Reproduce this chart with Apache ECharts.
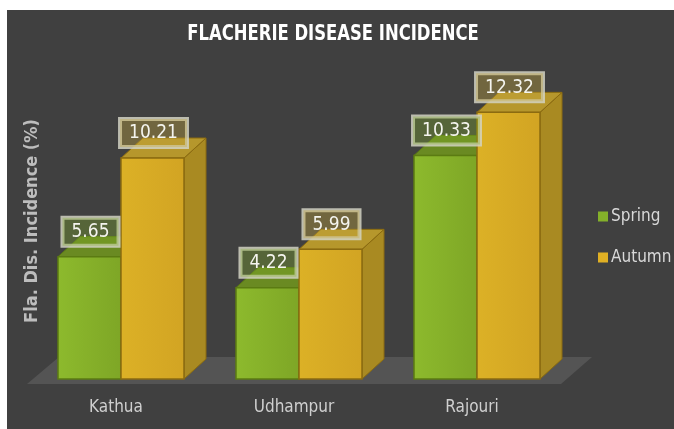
<!DOCTYPE html>
<html>
<head>
<meta charset="utf-8">
<script src="https://cdn.jsdelivr.net/npm/echarts@6/dist/echarts.min.js"></script>
<style>
  html, body { margin: 0; padding: 0; background: #ffffff; }
  #chart { position: absolute; left: 7px; top: 10px; width: 667px; height: 419px; }
</style>
</head>
<body>
<div id="chart"></div>
<script>
// ---- data ----
const CATEGORIES = ['Kathua', 'Udhampur', 'Rajouri'];
const SERIES_NAMES = ['Spring', 'Autumn'];
const SPRING = [5.65, 4.22, 10.33];
const AUTUMN = [10.21, 5.99, 12.32];
const TITLE = 'FLACHERIE DISEASE INCIDENCE';
const Y_NAME = 'Fla. Dis. Incidence (%)';

// ---- styles ----
const FONT = '"DejaVu Sans Condensed", "DejaVu Sans", sans-serif';
const DX = 22, DY = 20;          // 3D depth offsets (px)
const SHIFT = 5;                 // bars shifted right of category centre (px)
const BAR_FRAC = 63 / 178;       // bar width as fraction of band
const STYLES = [
  { front: ['#8dba2d', '#7ea626'], border: '#5b7b12', top: '#6a8a22', side: '#5f7d18', legend: '#84b02a', box: 'rgba(132,176,42,0.33)' },
  { front: ['#dcb126', '#d2a423'], border: '#8b6b10', top: '#b6972c', side: '#a98a22', legend: '#e0b024', box: 'rgba(200,170,60,0.36)' }
];

function makeRender(si) {
  const st = STYLES[si];
  return function (params, api) {
    const cat = api.value(0), v = api.value(1);
    const base = api.coord([cat, 0]);
    const topP = api.coord([cat, v]);
    const band = api.size([1, 0])[0];
    const w = band * BAR_FRAC;
    const x0 = base[0] + SHIFT - (si === 0 ? w : 0);
    const x1 = x0 + w;
    const ty = topP[1], by = base[1];
    const children = [];
    // side face
    children.push({
      type: 'polygon',
      shape: { points: [[x1, ty], [x1 + DX, ty - DY], [x1 + DX, by - DY], [x1, by]] },
      style: { fill: st.side, stroke: st.border, lineWidth: 1 }
    });
    // top face
    children.push({
      type: 'polygon',
      shape: { points: [[x0, ty], [x1, ty], [x1 + DX, ty - DY], [x0 + DX, ty - DY]] },
      style: { fill: st.top, stroke: st.border, lineWidth: 1 }
    });
    // front face
    children.push({
      type: 'rect',
      shape: { x: x0, y: ty, width: w, height: by - ty },
      style: {
        fill: new echarts.graphic.LinearGradient(0, 0, 1, 0, [
          { offset: 0, color: st.front[0] },
          { offset: 1, color: st.front[1] }
        ]),
        stroke: st.border, lineWidth: 1.5
      }
    });
    // value label box
    children.push({
      type: 'text',
      z2: 100,
      style: {
        text: v.toFixed(2),
        x: x0 + w / 2 + 1,
        y: ty - 11,
        align: 'center',
        verticalAlign: 'bottom',
        fill: '#f4f4ee',
        font: '19px ' + FONT,
        backgroundColor: st.box,
        borderColor: 'rgba(210,210,195,0.85)',
        borderWidth: 2,
        padding: [5, 9, 4, 9]
      }
    });
    return { type: 'group', children: children };
  };
}

function renderFloor(params, api) {
  const cs = params.coordSys;
  const bY = cs.y + cs.height + 5;
  const tY = cs.y + cs.height - 22;
  return {
    type: 'polygon',
    shape: { points: [[cs.x, bY], [cs.x + cs.width, bY], [cs.x + cs.width + 31, tY], [cs.x + 32, tY]] },
    style: { fill: '#545454' }
  };
}

const chart = echarts.init(document.getElementById('chart'), null, { renderer: 'canvas' });
chart.setOption({
  backgroundColor: '#404040',
  animation: false,
  textStyle: { fontFamily: FONT },
  grid: { left: 20, right: 113, top: 66, bottom: 50, containLabel: false },
  xAxis: {
    type: 'category',
    data: CATEGORIES,
    axisLine: { show: false },
    axisTick: { show: false },
    axisLabel: { color: '#cfcfcf', fontSize: 17, fontFamily: FONT, margin: 20 }
  },
  yAxis: {
    type: 'value', min: 0, max: 14,
    show: false,
    splitLine: { show: false }
  },
  legend: {
    data: SERIES_NAMES,
    orient: 'vertical',
    left: 591, top: 198, padding: 0,
    itemWidth: 10, itemHeight: 10, itemGap: 24,
    icon: 'rect',
    textStyle: { color: '#d8d8d8', fontSize: 17, fontFamily: FONT, padding: [0, 0, 0, -2] }
  },
  graphic: [
    {
      type: 'text', x: 326, y: 25, scaleX: 0.87,
      style: { text: TITLE, fill: '#ffffff', font: 'bold 21px ' + FONT, align: 'center', verticalAlign: 'middle' }
    },
    {
      type: 'text', x: 25, y: 211, rotation: Math.PI / 2,
      style: { text: Y_NAME, fill: '#bdbdbd', font: 'bold 18px ' + FONT, align: 'center', verticalAlign: 'middle' }
    }
  ],
  series: [
    { type: 'custom', name: 'floor', renderItem: renderFloor, data: [[0, 0]], z: 1, silent: true },
    { type: 'custom', name: SERIES_NAMES[0], renderItem: makeRender(0), itemStyle: { color: STYLES[0].legend },
      data: SPRING.map((v, i) => [i, v]), z: 2 },
    { type: 'custom', name: SERIES_NAMES[1], renderItem: makeRender(1), itemStyle: { color: STYLES[1].legend },
      data: AUTUMN.map((v, i) => [i, v]), z: 2 }
  ]
});
</script>
</body>
</html>
